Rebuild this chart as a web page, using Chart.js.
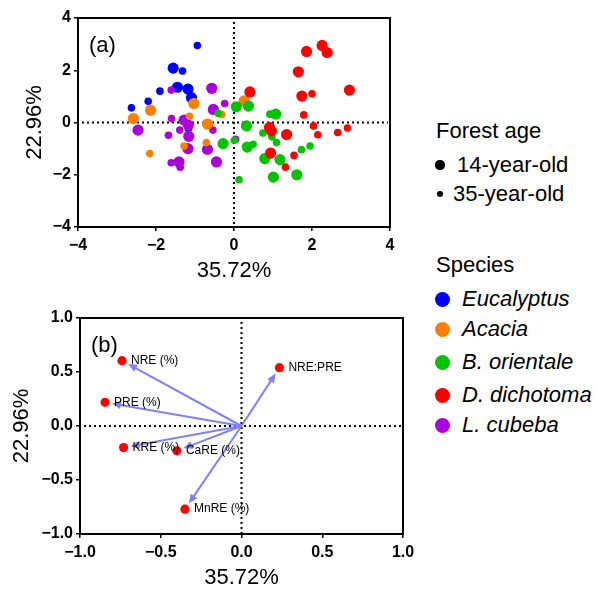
<!DOCTYPE html>
<html>
<head>
<meta charset="utf-8">
<script src="https://cdn.jsdelivr.net/npm/chart.js@4.4.1/dist/chart.umd.min.js"></script>
<style>
  html, body { margin: 0; padding: 0; background: #fff; }
  body { width: 598px; height: 591px; overflow: hidden; position: relative;
         font-family: "Liberation Sans", Arial, sans-serif; color: #000; }
  #wrapA { position: absolute; left: 0; top: 0; width: 420px; height: 290px; }
  #wrapB { position: absolute; left: 0; top: 290px; width: 420px; height: 301px; }
  .lg { position: absolute; font-size: 22px; line-height: 26px; white-space: nowrap; }
  .dot { position: absolute; border-radius: 50%; }
  .it { font-style: italic; }
</style>
</head>
<body>
<div id="wrapA"><canvas id="pcaA"></canvas></div>
<div id="wrapB"><canvas id="pcaB"></canvas></div>
<div id="legend"></div>
<script>
// ---- Panel (a): sample scores on PC1 / PC2, [x, y, forest age in years] ----
const species = ['Eucalyptus', 'Acacia', 'B. orientale', 'D. dichotoma', 'L. cubeba'];
const speciesColors = ['#0000ff', '#ff8000', '#00c400', '#ff0000', '#aa00dd'];
const ages = ['14-year-old', '35-year-old'];

const eucalyptus = [
  [-0.94, 2.95, 35], [-1.56, 2.08, 14], [-1.32, 1.97, 35], [-1.45, 1.35, 14],
  [-1.18, 1.28, 14], [-1.90, 1.20, 35], [-1.09, 0.95, 14], [-2.20, 0.81, 35],
  [-2.63, 0.56, 35], [-1.17, -0.23, 35]
];
const acacia = [
  [0.26, 0.83, 14], [-1.03, 0.73, 14], [-2.14, 0.47, 14], [-2.58, 0.15, 14],
  [-1.14, 0.24, 35], [-0.32, 0.31, 35], [-0.68, -0.06, 14], [-0.71, -0.77, 35],
  [-1.28, -0.90, 35], [-2.16, -1.19, 35]
];
const bOrientale = [
  [0.06, 0.60, 14], [0.37, 0.63, 14], [-0.41, 0.35, 35], [0.92, 0.32, 35],
  [1.07, 0.32, 14], [0.32, -0.13, 14], [0.74, -0.40, 35], [0.97, -0.55, 35],
  [1.09, -0.77, 35], [-0.28, -0.81, 14], [0.01, -0.68, 35], [0.34, -0.94, 14],
  [0.49, -0.83, 35], [0.79, -1.38, 14], [1.18, -1.42, 14], [1.73, -1.04, 35],
  [1.95, -0.90, 35], [1.61, -2.00, 14], [1.01, -2.09, 14], [0.13, -2.19, 35]
];
const dDichotoma = [
  [2.26, 2.95, 14], [2.39, 2.68, 14], [1.86, 2.72, 14], [1.65, 1.94, 14],
  [0.41, 1.17, 14], [2.96, 1.24, 14], [1.74, 1.01, 14], [2.00, 1.10, 35],
  [1.79, 0.29, 35], [0.91, -0.19, 14], [0.96, -0.32, 14], [1.35, -0.46, 14],
  [2.04, -0.13, 35], [2.15, -0.47, 35], [2.91, -0.21, 35], [2.66, -0.38, 35],
  [0.94, -1.17, 14], [1.54, -1.26, 35], [1.32, -1.71, 35]
];
const lCubeba = [
  [-0.57, 1.31, 14], [-1.61, 1.24, 35], [-0.24, 0.73, 35], [-0.53, 0.50, 14],
  [-1.60, 0.15, 35], [-1.28, 0.09, 14], [-1.17, -0.10, 14], [-2.46, -0.29, 14],
  [-1.39, -0.29, 35], [-0.54, -0.29, 35], [-1.16, -0.53, 14], [-1.68, -0.49, 35],
  [-1.18, -1.00, 14], [-0.68, -1.03, 14], [-0.45, -1.51, 14], [-1.61, -1.54, 35],
  [-1.41, -1.51, 14], [-1.38, -1.71, 35], [0.04, -0.64, 35]
];
const scoreSets = [eucalyptus, acacia, bOrientale, dDichotoma, lCubeba];
// stacking: D. dichotoma on top, Eucalyptus at the bottom
const drawOrder = [5, 3, 2, 1, 4];

const ticksA = [-4, -2, 0, 2, 4];

// ---- Panel (b): variable loadings ----
const loadingLabels = ['NRE (%)', 'PRE (%)', 'KRE (%)', 'CaRE (%)', 'MnRE (%)', 'NRE:PRE'];
const loadingX = [-0.74, -0.845, -0.73, -0.40, -0.35, 0.235];
const loadingY = [0.605, 0.22, -0.20, -0.23, -0.77, 0.54];
const ticksB = [-1.0, -0.5, 0.0, 0.5, 1.0];

const FONT = '"Liberation Sans", Arial, sans-serif';
const fmt = (v, d) => (v < 0 ? '\u2212' : '') + Math.abs(v).toFixed(d);

// frame, dotted zero lines and panel tag
function framePlugin(tag) {
  return {
    id: 'frame' + tag,
    beforeDatasetsDraw(chart) {
      const { ctx, chartArea: a, scales } = chart;
      const x0 = scales.x.getPixelForValue(0), y0 = scales.y.getPixelForValue(0);
      ctx.save();
      ctx.strokeStyle = '#000';
      ctx.lineWidth = 2;
      ctx.setLineDash([2, 3]);
      ctx.beginPath();
      ctx.moveTo(x0, a.top + 4); ctx.lineTo(x0, a.bottom);
      ctx.moveTo(a.left + 4, y0); ctx.lineTo(a.right - 2, y0);
      ctx.stroke();
      ctx.restore();
    },
    afterDraw(chart) {
      const { ctx, chartArea: a } = chart;
      ctx.save();
      ctx.strokeStyle = '#000';
      ctx.lineWidth = 2;
      ctx.strokeRect(a.left, a.top, a.right - a.left, a.bottom - a.top);
      ctx.fillStyle = '#000';
      ctx.font = '22px ' + FONT;
      ctx.textBaseline = 'middle';
      ctx.fillText(tag, a.left + 11, a.top + 28);
      ctx.restore();
    }
  };
}

function axes(ticks, decimals, yWidth, xHeight, xPad, yTitlePad, xTitlePad) {
  const common = (list) => ({
    type: 'linear',
    min: list[0], max: list[list.length - 1],
    afterBuildTicks: s => { s.ticks = list.map(v => ({ value: v })); },
    border: { display: false },
    grid: { drawOnChartArea: false, drawTicks: true, tickLength: 4, color: '#000', lineWidth: 1.5 },
  });
  return {
    x: Object.assign(common(ticks), {
      ticks: { color: '#000', font: { family: FONT, size: 16, weight: 'bold' }, padding: xPad,
               maxRotation: 0, autoSkip: false, callback: v => fmt(v, decimals) },
      title: { display: true, text: '35.72%', color: '#000', font: { family: FONT, size: 22 },
               padding: { top: 0, bottom: xTitlePad } },
      afterFit: s => { s.height = xHeight; }
    }),
    y: Object.assign(common(ticks), {
      ticks: { color: '#000', font: { family: FONT, size: 16, weight: 'bold' }, padding: 3,
               autoSkip: false, callback: v => fmt(v, decimals) },
      title: { display: true, text: '22.96%', color: '#000', font: { family: FONT, size: 22 },
               padding: { top: yTitlePad, bottom: 0 } },
      afterFit: s => { s.width = yWidth; }
    })
  };
}

const baseOpts = {
  responsive: false,
  animation: false,
  events: [],
  plugins: { legend: { display: false }, tooltip: { enabled: false } },
};

// ---- Chart (a) ----
const canvasA = document.getElementById('pcaA');
canvasA.width = 420; canvasA.height = 290;
new Chart(canvasA, {
  type: 'scatter',
  data: {
    datasets: scoreSets.map((set, i) => ({
      label: species[i],
      data: set.map(p => ({ x: p[0], y: p[1], age: p[2] })),
      backgroundColor: speciesColors[i],
      borderWidth: 0,
      pointRadius: ctx => (ctx.raw && ctx.raw.age === 14 ? 5.6 : 3.8),
      order: drawOrder[i]
    }))
  },
  options: Object.assign({}, baseOpts, {
    layout: { padding: { left: 0, top: 18, right: 30, bottom: 0 } },
    scales: axes(ticksA, 0, 78, 63, 4.5, 22, 6)
  }),
  plugins: [framePlugin('(a)')]
});

// ---- Chart (b) ----
const arrowPlugin = {
  id: 'arrows',
  beforeDatasetsDraw(chart) {
    const { ctx, scales } = chart;
    const ox = scales.x.getPixelForValue(0), oy = scales.y.getPixelForValue(0);
    ctx.save();
    ctx.strokeStyle = 'rgb(128,128,255)';
    ctx.fillStyle = 'rgb(128,128,255)';
    ctx.lineWidth = 2;
    loadingX.forEach((lx, i) => {
      const px = scales.x.getPixelForValue(lx), py = scales.y.getPixelForValue(loadingY[i]);
      const dx = px - ox, dy = py - oy, len = Math.hypot(dx, dy);
      const ux = dx / len, uy = dy / len;
      const tx = px - ux * 7, ty = py - uy * 7;
      const hl = 9, hw = 4;
      const bx = tx - ux * hl, by = ty - uy * hl;
      ctx.beginPath(); ctx.moveTo(ox, oy); ctx.lineTo(bx + ux * 2, by + uy * 2); ctx.stroke();
      ctx.beginPath();
      ctx.moveTo(tx, ty);
      ctx.lineTo(bx - uy * hw, by + ux * hw);
      ctx.lineTo(bx + uy * hw, by - ux * hw);
      ctx.closePath(); ctx.fill();
    });
    ctx.restore();
  },
  afterDatasetsDraw(chart) {
    const { ctx, scales } = chart;
    ctx.save();
    ctx.fillStyle = '#000';
    ctx.font = '12px ' + FONT;
    ctx.textBaseline = 'middle';
    loadingLabels.forEach((t, i) => {
      const px = scales.x.getPixelForValue(loadingX[i]), py = scales.y.getPixelForValue(loadingY[i]);
      ctx.fillText(t, px + 9, py);
    });
    ctx.restore();
  }
};

const canvasB = document.getElementById('pcaB');
canvasB.width = 420; canvasB.height = 301;
new Chart(canvasB, {
  type: 'scatter',
  data: {
    datasets: [{
      label: 'Loadings',
      data: loadingX.map((x, i) => ({ x, y: loadingY[i] })),
      backgroundColor: '#ff0000',
      borderWidth: 0,
      pointRadius: 4.6
    }]
  },
  options: Object.assign({}, baseOpts, {
    layout: { padding: { left: 0, top: 28, right: 17, bottom: 0 } },
    scales: axes(ticksB, 1, 80, 57, 4.5, 9, 0)
  }),
  plugins: [framePlugin('(b)'), arrowPlugin]
});

// ---- Legend ----
const legend = document.getElementById('legend');
function addText(text, left, cy, italic) {
  const d = document.createElement('div');
  d.className = 'lg' + (italic ? ' it' : '');
  d.style.left = left + 'px';
  d.style.top = (cy - 13) + 'px';
  d.textContent = text;
  legend.appendChild(d);
}
function addDot(cx, cy, r, color) {
  const d = document.createElement('div');
  d.className = 'dot';
  d.style.left = (cx - r) + 'px';
  d.style.top = (cy - r) + 'px';
  d.style.width = d.style.height = (2 * r) + 'px';
  d.style.background = color;
  legend.appendChild(d);
}
addText('Forest age', 436, 131, false);
const ageRows = [[165, 4.6, 457], [194, 3.2, 453]];
ages.forEach((a, i) => {
  addDot(440, ageRows[i][0], ageRows[i][1], '#000');
  addText(a, ageRows[i][2], ageRows[i][0], false);
});
addText('Species', 436, 265, false);
const speciesRows = [299, 329, 362, 395, 425];
species.forEach((s, i) => {
  addDot(442, speciesRows[i], 7.5, speciesColors[i]);
  addText(s, 462, speciesRows[i], true);
});
</script>
</body>
</html>
